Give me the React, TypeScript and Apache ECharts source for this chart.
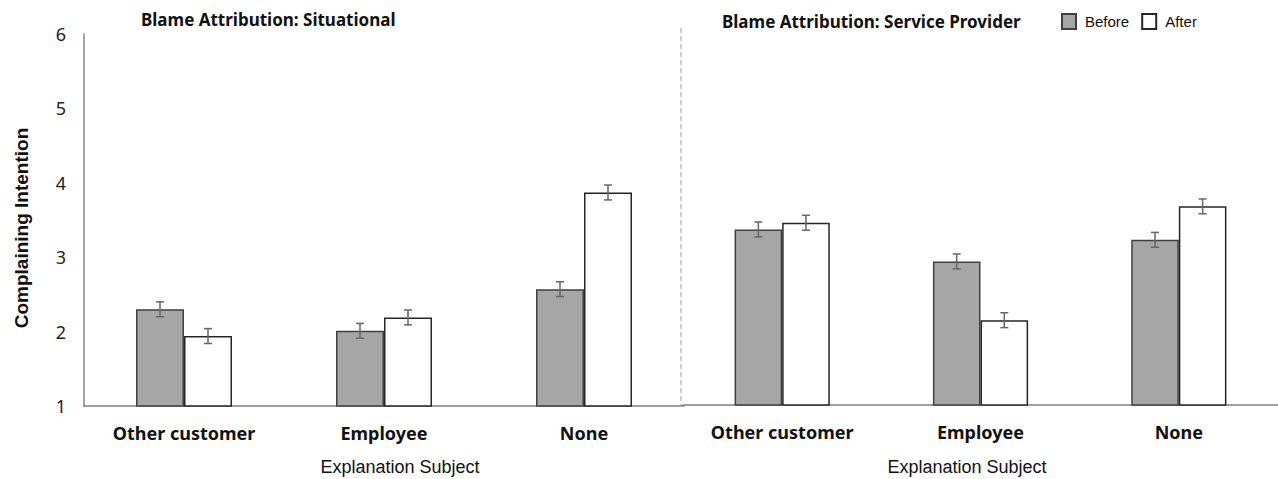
import React, { useEffect, useRef } from "react";
import * as echarts from "echarts";

const categories = ["Other customer", "Employee", "None"];
const yTicks = [1, 2, 3, 4, 5, 6];
const situationalBefore = [2.3, 2.01, 2.57];
const situationalAfter = [1.94, 2.19, 3.87];
const providerBefore = [3.36, 2.93, 3.22];
const providerAfter = [3.45, 2.14, 3.67];
const situationalBeforeErr = [0.1, 0.1, 0.1];
const situationalAfterErr = [0.1, 0.1, 0.1];
const providerBeforeErr = [0.1, 0.1, 0.1];
const providerAfterErr = [0.1, 0.1, 0.1];

const BAR_RATIO = 0.24;

function errorSeries(axisIndex: number, values: number[], errs: number[], side: number) {
  return {
    type: "custom",
    xAxisIndex: axisIndex,
    yAxisIndex: axisIndex,
    silent: true,
    z: 10,
    data: values.map((v, i) => [i, v, errs[i]]),
    renderItem: (params: any, api: any) => {
      const i = api.value(0);
      const v = api.value(1);
      const e = api.value(2);
      const band = api.size([1, 0])[0];
      const off = side * band * BAR_RATIO * 0.5;
      const hi = api.coord([i, v + e]);
      const lo = api.coord([i, v - e]);
      const x = hi[0] + off;
      const cap = 4;
      const style = { stroke: "#666666", lineWidth: 1.5 };
      return {
        type: "group",
        children: [
          { type: "line", shape: { x1: x, y1: hi[1], x2: x, y2: lo[1] }, style },
          { type: "line", shape: { x1: x - cap, y1: hi[1], x2: x + cap, y2: hi[1] }, style },
          { type: "line", shape: { x1: x - cap, y1: lo[1], x2: x + cap, y2: lo[1] }, style },
        ],
      };
    },
  };
}

const beforeStyle = { color: "#a6a6a6", borderColor: "#404040", borderWidth: 1.5 };
const afterStyle = { color: "#ffffff", borderColor: "#262626", borderWidth: 1.5 };

export default function App() {
  const ref = useRef<HTMLDivElement>(null);
  useEffect(() => {
    if (!ref.current) return;
    const chart = echarts.init(ref.current, undefined, { renderer: "svg" });
    const xAxisBase = {
      type: "category",
      data: categories,
      axisTick: { show: false },
      axisLine: { lineStyle: { color: "#7f7f7f", width: 1.5 } },
      axisLabel: {
        fontSize: 18,
        fontWeight: "bold",
        color: "#111",
        fontFamily: "Noto Sans",
        margin: 18,
      },
    };
    const titleStyle = { fontSize: 17, fontWeight: "bold", color: "#111", fontFamily: "Noto Sans" };
    chart.setOption({
      animation: false,
      title: [
        { text: "Blame Attribution: Situational", left: 136, top: 6, textStyle: titleStyle },
        { text: "Blame Attribution: Service Provider", left: 717, top: 8, textStyle: titleStyle },
      ],
      legend: {
        data: ["Before", "After"],
        left: 1056,
        top: 8,
        icon: "rect",
        itemWidth: 14,
        itemHeight: 15,
        itemGap: 12,
        textStyle: {
          fontSize: 15,
          color: "#111",
          fontFamily: "Liberation Sans",
          padding: [0, 0, 0, 4],
        },
      },
      grid: [
        { left: 84, top: 34, width: 600, height: 372 },
        { left: 683, top: 33, width: 600, height: 372 },
      ],
      xAxis: [
        { ...xAxisBase, gridIndex: 0 },
        { ...xAxisBase, gridIndex: 1 },
      ],
      yAxis: [
        {
          type: "value",
          gridIndex: 0,
          min: yTicks[0],
          max: yTicks[yTicks.length - 1],
          interval: 1,
          splitLine: { show: false },
          axisTick: { show: false },
          axisLine: { show: true, lineStyle: { color: "#868686", width: 1.5 } },
          axisLabel: { fontSize: 18, color: "#222", margin: 18, fontFamily: "Noto Sans" },
        },
        {
          type: "value",
          gridIndex: 1,
          min: yTicks[0],
          max: yTicks[yTicks.length - 1],
          interval: 1,
          splitLine: { show: false },
          axisTick: { show: false },
          axisLine: { show: false },
          axisLabel: { show: false },
        },
      ],
      series: [
        {
          name: "Before",
          type: "bar",
          xAxisIndex: 0,
          yAxisIndex: 0,
          data: situationalBefore,
          barWidth: "24%",
          barGap: "0%",
          itemStyle: beforeStyle,
        },
        {
          name: "After",
          type: "bar",
          xAxisIndex: 0,
          yAxisIndex: 0,
          data: situationalAfter,
          barWidth: "24%",
          barGap: "0%",
          itemStyle: afterStyle,
        },
        {
          name: "Before",
          type: "bar",
          xAxisIndex: 1,
          yAxisIndex: 1,
          data: providerBefore,
          barWidth: "24%",
          barGap: "0%",
          itemStyle: beforeStyle,
        },
        {
          name: "After",
          type: "bar",
          xAxisIndex: 1,
          yAxisIndex: 1,
          data: providerAfter,
          barWidth: "24%",
          barGap: "0%",
          itemStyle: afterStyle,
        },
        errorSeries(0, situationalBefore, situationalBeforeErr, -1),
        errorSeries(0, situationalAfter, situationalAfterErr, 1),
        errorSeries(1, providerBefore, providerBeforeErr, -1),
        errorSeries(1, providerAfter, providerAfterErr, 1),
      ],
      graphic: [
        {
          type: "line",
          shape: { x1: 681, y1: 28, x2: 681, y2: 405 },
          style: { stroke: "#999999", lineWidth: 1, lineDash: [5, 3] },
          z: 1,
        },
        {
          type: "text",
          x: 21,
          y: 228,
          rotation: Math.PI / 2,
          style: {
            text: "Complaining Intention",
            fontSize: 19,
            fontWeight: "bold",
            fill: "#111",
            fontFamily: "Liberation Sans",
            align: "center",
            verticalAlign: "middle",
          },
        },
        {
          type: "text",
          x: 400,
          y: 467,
          style: {
            text: "Explanation Subject",
            fontSize: 18,
            fill: "#111",
            fontFamily: "Liberation Sans",
            align: "center",
            verticalAlign: "middle",
          },
        },
        {
          type: "text",
          x: 967,
          y: 467,
          style: {
            text: "Explanation Subject",
            fontSize: 18,
            fill: "#111",
            fontFamily: "Liberation Sans",
            align: "center",
            verticalAlign: "middle",
          },
        },
      ],
    });
    return () => chart.dispose();
  }, []);
  return (
    <div
      ref={ref}
      style={{ position: "fixed", left: 0, top: 0, width: 1278, height: 479, background: "#fff" }}
    />
  );
}
